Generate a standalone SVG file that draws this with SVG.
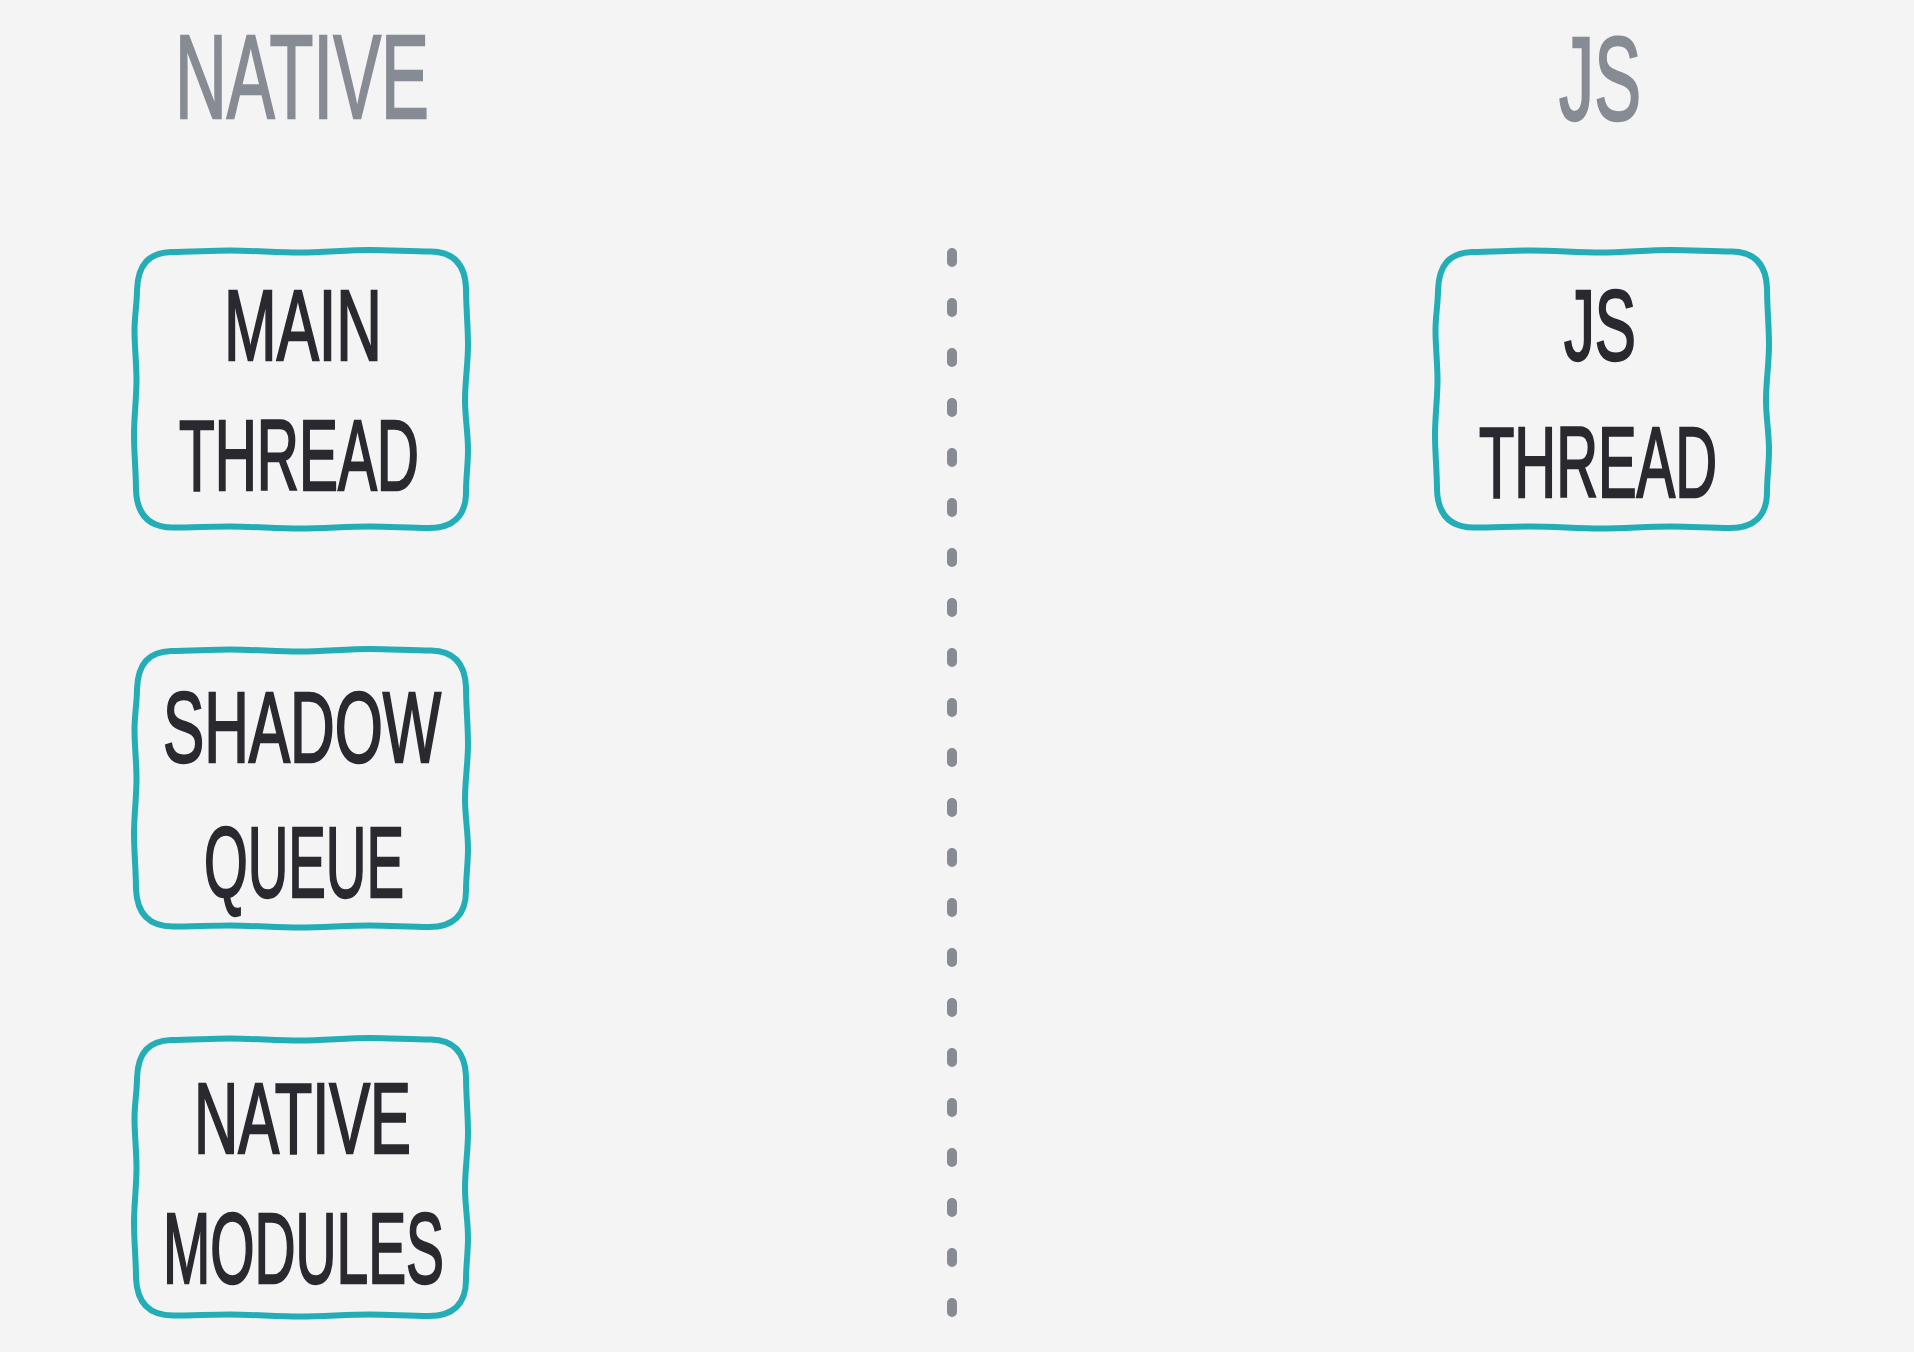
<svg xmlns="http://www.w3.org/2000/svg" width="1914" height="1352" viewBox="0 0 1914 1352">
<style>
.bg{fill:#f3f4f3}
.box{fill:none;stroke:#23adb6;stroke-width:6;stroke-linejoin:round;stroke-linecap:round}
.lbl{font-family:"Liberation Sans",Arial,sans-serif;font-size:100px;fill:#29292f;stroke:#29292f;stroke-width:2.4;text-anchor:middle}
.ttl{font-family:"Liberation Sans",Arial,sans-serif;font-size:119px;fill:#868b94;stroke:#868b94;stroke-width:2.4;text-anchor:middle}
.sep{fill:none;stroke:#868b94;stroke-width:10;stroke-linecap:round;stroke-dasharray:9 41}
</style>
<defs>
<path id="frame" d="M 36 2 C 56 2 75 0.5 95 0.5 C 118 0.5 142 2.5 165 2.5 C 188 2.5 212 0 235 0 C 255 0 276 1.5 296 1.5 C 318 2 330 14 331 38 C 331 57 333 76 333 95 C 333 113 330 132 330 150 C 330 167 333 183 333 200 C 333 214 331 228 331 242 C 331 266 318 278 294 278 C 274 278 255 276.5 235 276.5 C 212 276.5 188 278.5 165 278.5 C 142 278.5 118 276.5 95 276.5 C 76 276.5 57 277.5 38 277.5 C 14 277.5 2 265 1 240 C 1 222 -1 203 -1 185 C -1 167 1.5 148 1.5 130 C 1.5 113 -0.5 97 -0.5 80 C -0.5 67 2 53 2 40 C 3 14 14 3 36 2 Z"/>
</defs>
<rect class="bg" x="0" y="0" width="1914" height="1352"/>
<g id="title-native"><text class="ttl" x="302" y="118" textLength="254" lengthAdjust="spacingAndGlyphs">NATIVE</text></g>
<g id="title-js"><text class="ttl" x="1600" y="120" textLength="82" lengthAdjust="spacingAndGlyphs">JS</text></g>
<g id="connectors"><line class="sep" x1="952" y1="253" x2="952" y2="1312"/></g>
<g id="main-thread">
<use href="#frame" class="box" transform="translate(135,250)"/>
<text class="lbl" x="303" y="360" textLength="158" lengthAdjust="spacingAndGlyphs">MAIN</text>
<text class="lbl" x="299" y="490" textLength="240" lengthAdjust="spacingAndGlyphs">THREAD</text>
</g>
<g id="shadow-queue">
<use href="#frame" class="box" transform="translate(135,649)"/>
<text class="lbl" x="302" y="762" textLength="278" lengthAdjust="spacingAndGlyphs">SHADOW</text>
<text class="lbl" x="304" y="897" textLength="200" lengthAdjust="spacingAndGlyphs">QUEUE</text>
</g>
<g id="native-modules">
<use href="#frame" class="box" transform="translate(135,1038)"/>
<text class="lbl" x="302.5" y="1153" textLength="217" lengthAdjust="spacingAndGlyphs">NATIVE</text>
<text class="lbl" x="303.5" y="1283" textLength="281" lengthAdjust="spacingAndGlyphs">MODULES</text>
</g>
<g id="js-thread">
<use href="#frame" class="box" transform="translate(1436,250)"/>
<text class="lbl" x="1600" y="360" textLength="72" lengthAdjust="spacingAndGlyphs">JS</text>
<text class="lbl" x="1598" y="497" textLength="238" lengthAdjust="spacingAndGlyphs">THREAD</text>
</g>
</svg>
